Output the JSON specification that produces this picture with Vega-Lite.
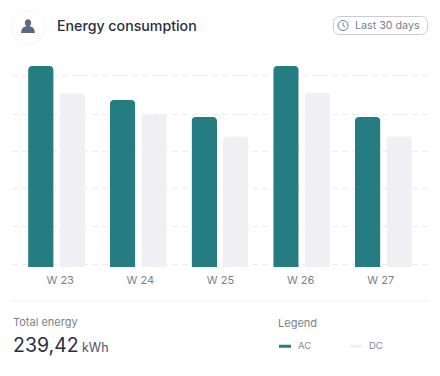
{
"$schema":"https://vega.github.io/schema/vega-lite/v6.json",
"width":416,"height":201,
"autosize":{"type":"none"},
"padding":{"left":12,"top":66,"right":12,"bottom":109},
"background":"white",
"config":{"view":{"stroke":null},"font":"Inter"},
"data":{"values":[
{"week":"W 23","series":"AC","kWh":29.5},{"week":"W 23","series":"DC","kWh":25.5},
{"week":"W 24","series":"AC","kWh":24.5},{"week":"W 24","series":"DC","kWh":22.42},
{"week":"W 25","series":"AC","kWh":22.0},{"week":"W 25","series":"DC","kWh":19.2},
{"week":"W 26","series":"AC","kWh":29.5},{"week":"W 26","series":"DC","kWh":25.6},
{"week":"W 27","series":"AC","kWh":22.0},{"week":"W 27","series":"DC","kWh":19.2}
]},
"resolve":{"scale":{"x":"independent","y":"independent"},"axis":{"x":"independent","y":"independent"}},
"layer":[
{"mark":{"type":"bar","cornerRadiusTopLeft":4,"cornerRadiusTopRight":4},
 "encoding":{
  "x":{"field":"week","type":"nominal","axis":null,"scale":{"type":"band","paddingInner":0.302,"paddingOuter":0.197}},
  "xOffset":{"field":"series","type":"nominal","scale":{"paddingInner":0.19}},
  "y":{"field":"kWh","type":"quantitative","scale":{"domain":[0,29.5],"nice":false,"zero":false},
   "axis":{"values":[0.44,6,11.55,17,22.4,28.2],"labels":false,"ticks":false,"domain":false,"title":null,"grid":true,"gridColor":"#e9ebee","gridDash":[5,5],"gridWidth":1}},
  "color":{"field":"series","type":"nominal","scale":{"domain":["AC","DC"],"range":["#257d82","#f0f0f4"]},
   "legend":{"orient":"none","legendX":266,"legendY":252,"title":"Legend","titleFontSize":11,"titleFontWeight":400,"titleColor":"#7a7f8f","titleFont":"Inter","titlePadding":10,"direction":"horizontal","columns":2,"columnPadding":37,"symbolType":"M-1,-0.25 H1 V0.25 H-1 Z","symbolSize":144,"symbolOpacity":1,"labelFontSize":9.5,"labelColor":"#858a99","labelFont":"Inter","labelOffset":6}}
 }},
{"mark":{"type":"point","opacity":0},
 "encoding":{
  "x":{"field":"week","type":"nominal","scale":{"type":"point","padding":0.595},
   "axis":{"title":null,"labelAngle":0,"domain":false,"ticks":false,"labelPadding":7,"labelFontSize":11,"labelColor":"#7a7f8f","labelFont":"Inter"}}
 }},
{"encoding":{
   "x":{"datum":0,"type":"quantitative","axis":null,"scale":{"domain":[12,428],"nice":false,"zero":false}},
   "y":{"datum":0,"type":"quantitative","axis":null,"scale":{"domain":[267,66],"nice":false,"zero":false}}},
 "layer":[
  {"data":{"values":[{"n":1}]},"mark":{"type":"rule","stroke":"#eceef0","strokeWidth":1},
   "encoding":{"x":{"datum":12},"x2":{"datum":428},"y":{"datum":301}}},
  {"data":{"values":[{"n":1}]},"mark":{"type":"point","filled":true,"fill":"#fafafb","size":1300,"shape":"circle","opacity":1},
   "encoding":{"x":{"datum":28},"y":{"datum":28}}},
  {"data":{"values":[{"n":1}]},"mark":{"type":"point","filled":true,"fill":"#ffffff","size":950,"shape":"circle","opacity":1},
   "encoding":{"x":{"datum":28},"y":{"datum":27}}},
  {"data":{"values":[{"n":1}]},"mark":{"type":"point","filled":true,"fill":"#5d6882","size":196,"opacity":1,"shape":"M-0.45,-0.45 A0.45,0.5 0 1 1 0.45,-0.45 A0.45,0.5 0 0 1 0.2,0.02 C0.75,0.1 0.95,0.4 1,1 L-1,1 C-0.95,0.4 -0.75,0.1 -0.2,0.02 A0.45,0.5 0 0 1 -0.45,-0.45 Z"},
   "encoding":{"x":{"datum":28},"y":{"datum":26}}},
  {"data":{"values":[{"label":"Energy consumption"}]},"mark":{"type":"text","align":"left","baseline":"alphabetic","fontSize":14.2,"fontWeight":500,"color":"#2a2e3d","font":"Inter"},
   "encoding":{"x":{"datum":57},"y":{"datum":31},"text":{"field":"label"}}},
  {"data":{"values":[{"n":1}]},"mark":{"type":"rect","fill":"#ffffff","stroke":"#c9cbd8","strokeWidth":1,"cornerRadius":6},
   "encoding":{"x":{"datum":333.5},"x2":{"datum":427.5},"y":{"datum":16.5},"y2":{"datum":34.5}}},
  {"data":{"values":[{"n":1}]},"mark":{"type":"point","filled":false,"stroke":"#73788a","strokeWidth":1,"size":100,"shape":"circle","opacity":1},
   "encoding":{"x":{"datum":343},"y":{"datum":25.5}}},
  {"data":{"values":[{"n":1}]},"mark":{"type":"point","filled":false,"stroke":"#73788a","strokeWidth":1,"size":100,"opacity":1,"shape":"M0,-0.6 L0,0 L0.4,0.3"},
   "encoding":{"x":{"datum":343},"y":{"datum":25.5}}},
  {"data":{"values":[{"label":"Last 30 days"}]},"mark":{"type":"text","align":"left","baseline":"middle","fontSize":10.7,"color":"#7a7f8f","font":"Inter"},
   "encoding":{"x":{"datum":355},"y":{"datum":26},"text":{"field":"label"}}},
  {"data":{"values":[{"label":"Total energy"}]},"mark":{"type":"text","align":"left","baseline":"middle","fontSize":11,"color":"#7a7f8f","font":"Inter"},
   "encoding":{"x":{"datum":13},"y":{"datum":323},"text":{"field":"label"}}},
  {"data":{"values":[{"label":"239,42"}]},"mark":{"type":"text","align":"left","baseline":"alphabetic","fontSize":19.5,"color":"#2a2e3d","font":"Inter"},
   "encoding":{"x":{"datum":13},"y":{"datum":352},"text":{"field":"label"}}},
  {"data":{"values":[{"label":"kWh"}]},"mark":{"type":"text","align":"left","baseline":"alphabetic","fontSize":12.5,"color":"#4f5466","font":"Inter"},
   "encoding":{"x":{"datum":82},"y":{"datum":352},"text":{"field":"label"}}}
 ]}
]
}
